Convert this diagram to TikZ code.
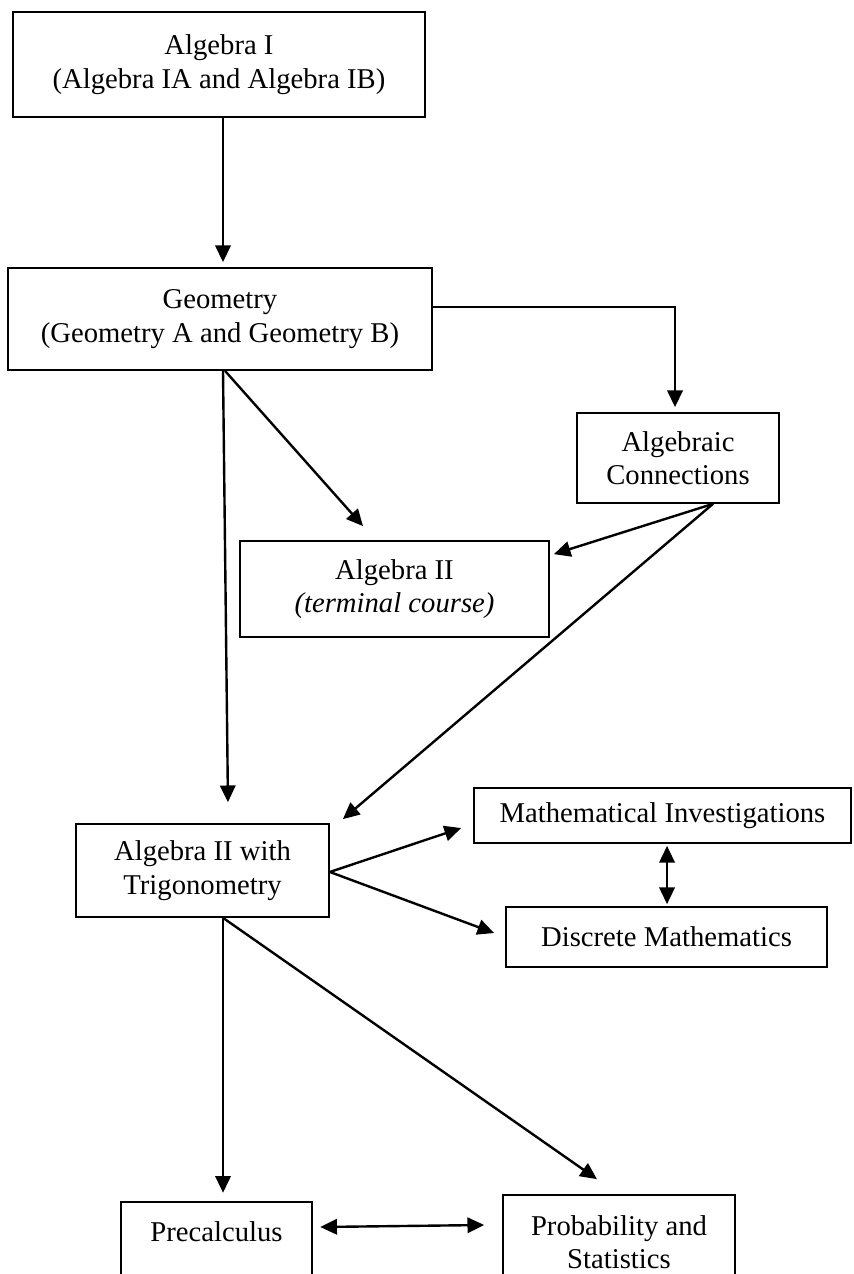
\documentclass[tikz,border=0pt]{standalone}
\usepackage{fontspec}
\setmainfont{Liberation Serif}
\usetikzlibrary{arrows.meta}
\begin{document}
\begin{tikzpicture}[x=0.75pt,y=-0.75pt,
  box/.style={draw, line width=1.3pt, align=center, inner sep=0pt,
    font=\fontsize{21.5pt}{25pt}\selectfont},
  txt/.style={align=center, inner sep=0pt, font=\fontsize{21.5pt}{25pt}\selectfont},
  boxline/.style={line width=1.3pt},
  arr/.style={line width=1.8pt, -{Triangle[length=12.5pt,width=11.5pt]}},
  darr/.style={line width=1.8pt, {Triangle[length=12.5pt,width=11.5pt]}-{Triangle[length=12.5pt,width=11.5pt]}}]
\useasboundingbox (0,0) rectangle (853,1274);

\node[box, minimum width=309pt, minimum height=78.75pt] (b1) at (219,64.5)
  {Algebra I\\(Algebra IA and Algebra IB)};
\node[box, minimum width=318pt, minimum height=76.5pt] (b2) at (220,319)
  {Geometry\\(Geometry A and Geometry B)};
\node[box, minimum width=151.5pt, minimum height=67.5pt] (b3) at (678,458)
  {Algebraic\\Connections};
\node[box, minimum width=231.75pt, minimum height=72pt] (b4) at (394.5,589)
  {Algebra II\\\textit{(terminal course)}};
\node[box, minimum width=189.75pt, minimum height=69.75pt] (b5) at (202.5,870.5)
  {Algebra II with\\Trigonometry};
\node[box, minimum width=282.75pt, minimum height=41.25pt] (mi) at (662.5,815.5)
  {Mathematical Investigations};
\node[box, minimum width=240.75pt, minimum height=45pt] (dm) at (666.5,937)
  {Discrete Mathematics};
\node[txt, minimum width=143.25pt, minimum height=45pt] (pre) at (216.5,1232)
  {Precalculus};
\draw[boxline] ([yshift=-40pt]pre.south west) -- (pre.north west) -- (pre.north east) -- ([yshift=-40pt]pre.south east);
\node[box, minimum width=174pt, minimum height=70.5pt] (ps) at (619,1242)
  {Probability and\\Statistics};

% connectors
\draw[arr] ([xshift=3pt]b1.south) -- ([xshift=2.25pt,yshift=3.75pt]b2.north);
\draw[arr] ([yshift=9pt]b2.east) -| ([xshift=-2.25pt,yshift=3.75pt]b3.north);
\draw[arr] ([xshift=3.75pt]b2.south) -- ([xshift=-23.6pt,yshift=10.5pt]b4.north);
\draw[arr] ([xshift=2.25pt]b2.south) -- ([xshift=19.1pt,yshift=15.75pt]b5.north);
\draw[arr] ([xshift=26.25pt]b3.south) -- ([xshift=3pt,yshift=-10.5pt]b4.north east);
\draw[arr] ([xshift=26.25pt]b3.south) -- ([xshift=9.75pt,yshift=3pt]b5.north east);
\draw[arr] ([yshift=-1.1pt]b5.east) -- ([xshift=-9pt,yshift=-9.4pt]mi.west);
\draw[arr] ([yshift=-1.1pt]b5.east) -- ([xshift=-8.25pt,yshift=3pt]dm.west);
\draw[darr] ([xshift=3.4pt,yshift=-1.5pt]mi.south) -- ([xshift=0.4pt,yshift=1.5pt]dm.north);
\draw[arr] ([xshift=15.4pt]b5.south) -- ([xshift=4.9pt,yshift=6.75pt]pre.north);
\draw[arr] ([xshift=15.4pt]b5.south) -- ([xshift=-16.5pt,yshift=11.25pt]ps.north);
\draw[darr] ([xshift=6pt,yshift=3.75pt]pre.east) -- ([xshift=-13.5pt,yshift=12.75pt]ps.west);
\end{tikzpicture}
\end{document}
